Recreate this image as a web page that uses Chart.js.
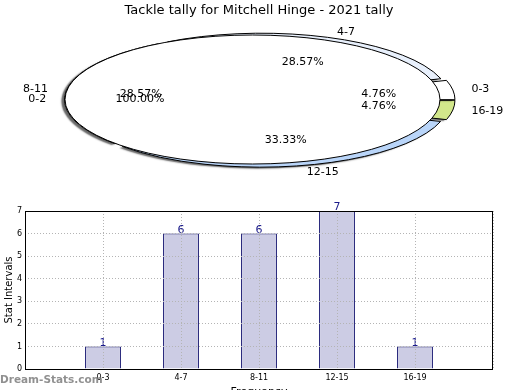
<!DOCTYPE html>
<html>
<head>
<meta charset="utf-8">
<script src="https://cdn.jsdelivr.net/npm/chart.js@4"></script>
<style>
  body { margin: 0; width: 520px; height: 390px; overflow: hidden; background: #fff; position: relative; }
  canvas { position: absolute; left: 0; }
</style>
</head>
<body>
<canvas id="pieOuter" width="520" height="185" style="top:0"></canvas>
<canvas id="pieInner" width="520" height="185" style="top:0"></canvas>
<canvas id="bars" width="520" height="206" style="top:190px"></canvas>
<script>
// Data
const categories = ["0-3", "4-7", "8-11", "12-15", "16-19"];
const tallies = [1, 6, 6, 7, 1];
const innerLabels = ["0-2"];
const innerValues = [1];
const yTicks = [0, 1, 2, 3, 4, 5, 6, 7];

Chart.defaults.font.family = "'DejaVu Sans', sans-serif";
Chart.defaults.color = "#000";

// pies whose labels get drawn on the top canvas
const labelledPies = [];

// where a wedge really sits once Chart.js has pushed it out by its offset
function wedgeGeom(arc, ratio) {
  const t = (arc.options.offset || 0) / 4;
  const circ = arc.endAngle - arc.startAngle;
  const fix = 1 - Math.sin(Math.min(Math.PI, circ));
  const mid = (arc.startAngle + arc.endAngle) / 2;
  return {
    t: t,
    grow: t * fix,
    mid: mid,
    r: arc.outerRadius + t * fix,
    cx: arc.x + Math.cos(mid) * t,
    cy: arc.y + Math.sin(mid) * t * ratio
  };
}

// Squash the round pie into an ellipse, then outline each wedge
const ellipsePie = {
  id: "ellipsePie",
  beforeDatasetsDraw(chart, args, opts) {
    const arc = chart.getDatasetMeta(0).data[0];
    const ctx = chart.ctx;
    ctx.save();
    ctx.translate(arc.x, arc.y);
    ctx.scale(1, opts.ratio);
    ctx.translate(-arc.x, -arc.y);
    if (opts.shadow) {
      ctx.shadowColor = "rgba(0,0,0,0.6)";
      ctx.shadowOffsetX = -3;
      ctx.shadowOffsetY = 1.5;
      ctx.shadowBlur = 1.5;
    }
  },
  afterDatasetsDraw(chart, args, opts) {
    const ctx = chart.ctx;
    ctx.restore();
    ctx.save();
    ctx.lineWidth = 1;
    ctx.strokeStyle = "#000";
    chart.getDatasetMeta(0).data.forEach((arc) => {
      const g = wedgeGeom(arc, opts.ratio);
      ctx.beginPath();
      if (arc.endAngle - arc.startAngle < Math.PI * 2 - 0.001) ctx.moveTo(g.cx, g.cy);
      ctx.ellipse(g.cx, g.cy, g.r, g.r * opts.ratio, 0, arc.startAngle, arc.endAngle);
      ctx.closePath();
      ctx.stroke();
    });
    ctx.restore();
  }
};

// Labels for both pies go on the top canvas so the white pie can't hide them
function drawPieLabels(ctx, chart) {
  const opts = chart.options.plugins.ellipsePie;
  const ds = chart.data.datasets[0];
  const total = ds.data.reduce((a, b) => a + b, 0);
  chart.getDatasetMeta(0).data.forEach((arc, i) => {
    const g = wedgeGeom(arc, opts.ratio);
    const c = Math.cos(g.mid), s = Math.sin(g.mid);
    const R = arc.outerRadius;
    const lr = R * opts.labelDist + g.t + g.grow;
    const pr = R * 0.6 + g.t + g.grow;
    ctx.textAlign = c >= 0 ? "left" : "right";
    ctx.fillText(chart.data.labels[i], arc.x + c * lr, arc.y + s * lr * opts.ratio);
    ctx.textAlign = "center";
    const pct = (ds.data[i] / total * 100).toFixed(2) + "%";
    ctx.fillText(pct, arc.x + c * pr, arc.y + s * pr * opts.ratio);
  });
}

const pieLabels = {
  id: "pieLabels",
  afterDraw(chart) {
    const ctx = chart.ctx;
    ctx.save();
    ctx.font = "11px 'DejaVu Sans'";
    ctx.fillStyle = "#000";
    ctx.textBaseline = "middle";
    labelledPies.forEach((c) => drawPieLabels(ctx, c));
    drawPieLabels(ctx, chart);
    ctx.restore();
  }
};

// Outer pie (Chart.js goes clockwise from east, matplotlib anticlockwise, so reverse)
const outerPie = new Chart(document.getElementById("pieOuter"), {
  type: "pie",
  data: {
    labels: categories.slice().reverse(),
    datasets: [{
      data: tallies.slice().reverse(),
      backgroundColor: ["#ffffff", "#e8f0fc", "#ffffff", "#b9d5f9", "#d2e78b"].reverse(),
      offset: [20, 28, 28, 28, 20].reverse(),
      borderWidth: 0,
      clip: false
    }]
  },
  options: {
    responsive: false,
    animation: false,
    rotation: 90,
    radius: 187.5,
    layout: { padding: { top: 0, right: 2, bottom: 3.6, left: 0 } },
    plugins: {
      legend: { display: false },
      tooltip: { enabled: false },
      title: {
        display: true,
        text: "Tackle tally for Mitchell Hinge - 2021 tally",
        font: { size: 13, weight: "normal" },
        padding: { top: 3, bottom: 0 }
      },
      ellipsePie: { ratio: 0.344, labelDist: 1.1, shadow: true }
    }
  },
  plugins: [ellipsePie]
});
labelledPies.push(outerPie);

// Inner white pie laid over the ring
new Chart(document.getElementById("pieInner"), {
  type: "pie",
  data: {
    labels: innerLabels,
    datasets: [{
      data: innerValues,
      backgroundColor: ["#ffffff"],
      borderWidth: 0,
      clip: false
    }]
  },
  options: {
    responsive: false,
    animation: false,
    rotation: 90,
    radius: 187.5,
    layout: { padding: { top: 14, right: 15, bottom: 0, left: 0 } },
    plugins: {
      legend: { display: false },
      tooltip: { enabled: false },
      ellipsePie: { ratio: 0.344, labelDist: 1.1, shadow: false }
    }
  },
  plugins: [ellipsePie, pieLabels]
});

// Bar chart: box, value labels and watermark
const barExtras = {
  id: "barExtras",
  afterDatasetsDraw(chart) {
    const ctx = chart.ctx;
    const meta = chart.getDatasetMeta(0);
    ctx.save();
    ctx.font = "11px 'DejaVu Sans'";
    ctx.fillStyle = "#1a1a8a";
    ctx.textAlign = "center";
    ctx.textBaseline = "bottom";
    meta.data.forEach((bar, i) => {
      const v = chart.data.datasets[0].data[i];
      if (v == null) return;
      ctx.fillText(v, bar.x, bar.y + 2);
    });
    ctx.restore();
  },
  afterDraw(chart) {
    const ctx = chart.ctx;
    const a = chart.chartArea;
    ctx.save();
    ctx.strokeStyle = "#000";
    ctx.lineWidth = 1;
    ctx.strokeRect(a.left + 0.5, a.top + 0.5, a.right - a.left - 1, a.bottom - a.top);
    ctx.font = "bold 10.5px 'DejaVu Sans'";
    ctx.fillStyle = "rgba(125,125,125,0.85)";
    ctx.textAlign = "left";
    ctx.textBaseline = "middle";
    ctx.fillText("Dream-Stats.com", 0, 190);
    ctx.restore();
  }
};

new Chart(document.getElementById("bars"), {
  type: "bar",
  data: {
    labels: ["", ...categories, ""],
    datasets: [{
      data: [null, ...tallies, null],
      backgroundColor: "#ccccE4",
      borderColor: "#10106e",
      borderWidth: 1,
      barPercentage: 0.46,
      categoryPercentage: 1
    }]
  },
  options: {
    responsive: false,
    animation: false,
    layout: { padding: { top: 21, right: 27, bottom: 0, left: 0 } },
    plugins: { legend: { display: false }, tooltip: { enabled: false } },
    scales: {
      x: {
        offset: false,
        grid: { offset: false, color: "#b4b4b4", drawTicks: false, z: 1 },
        border: { display: false, dash: [1, 2] },
        ticks: { font: { size: 8 }, padding: 4, autoSkip: false, maxRotation: 0 },
        title: { display: true, text: "Frequency", font: { size: 11 }, padding: { top: 0, bottom: -3 } },
        afterFit(scale) { scale.height = 27; }
      },
      y: {
        min: yTicks[0],
        max: yTicks[yTicks.length - 1],
        afterBuildTicks(scale) { scale.ticks = yTicks.map((v) => ({ value: v })); },
        grid: { color: "#b4b4b4", drawTicks: false, z: 1 },
        border: { display: false, dash: [1, 2] },
        ticks: { font: { size: 8 }, padding: 3 },
        title: { display: true, text: "Stat Intervals", font: { size: 10 }, padding: { top: 3, bottom: 0 } },
        afterFit(scale) { scale.width = 25; }
      }
    }
  },
  plugins: [barExtras]
});
</script>
</body>
</html>
